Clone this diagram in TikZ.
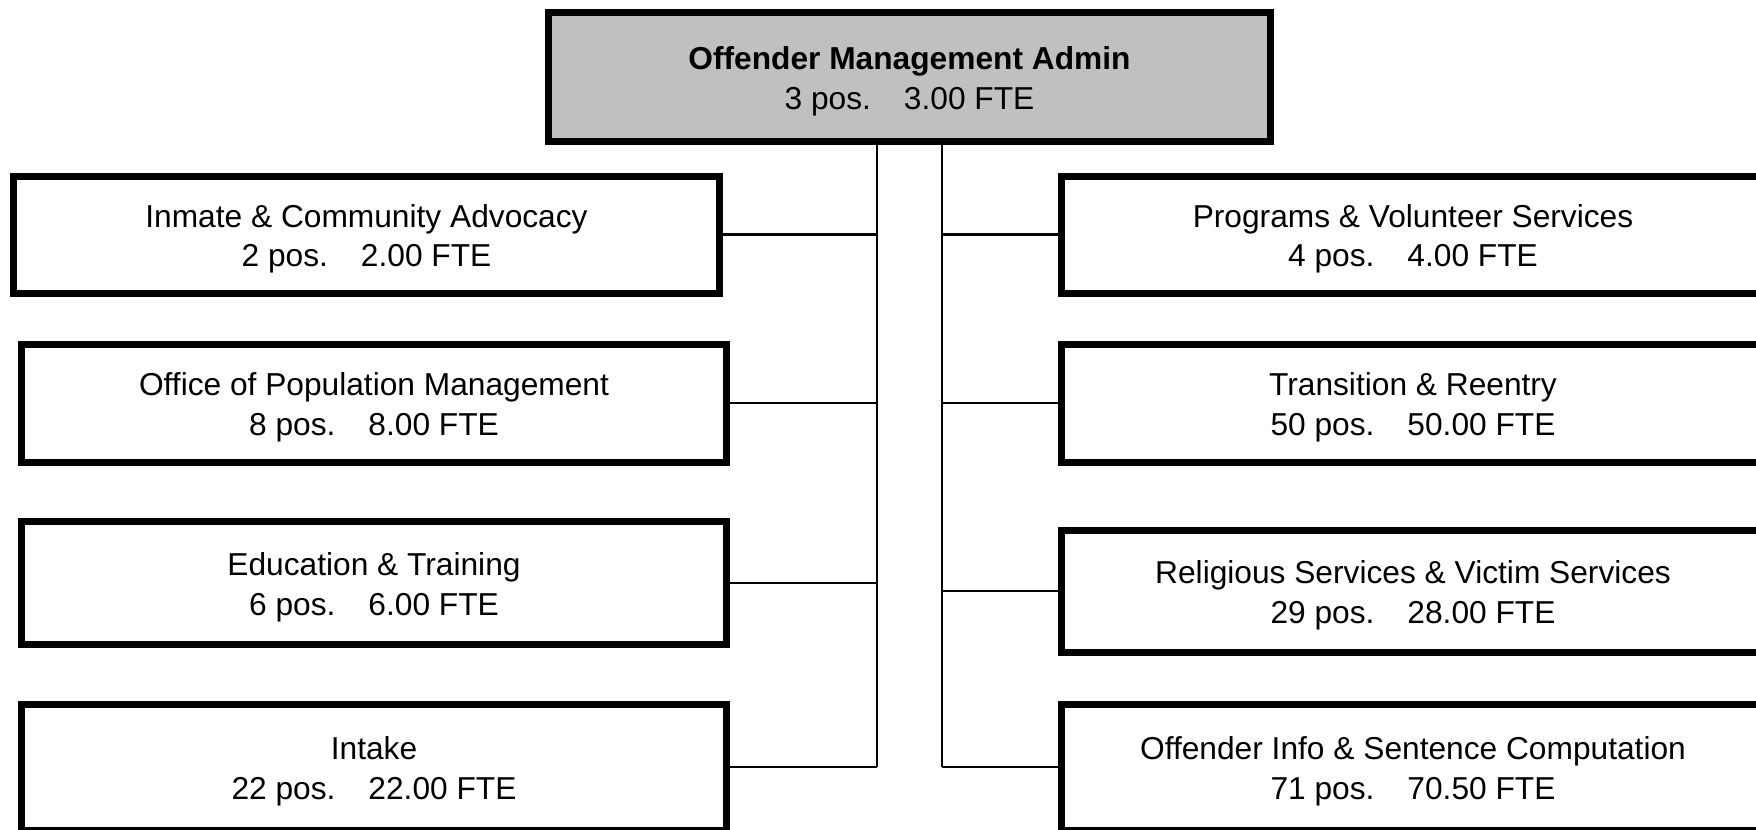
\documentclass[tikz,border=0pt]{standalone}
\usepackage{fontspec}
\setmainfont{Liberation Sans}
\definecolor{headgray}{RGB}{192,192,192}
% second line of each unit: positions and full-time equivalents
\newcommand\posfte[2]{#1 pos.\hspace{33bp}#2 FTE}
% two-line unit label: name, then positions and FTE
\newcommand\unitlabel[3]{\rule{0pt}{32bp}#1\\\posfte{#2}{#3}}
\begin{document}
\begin{tikzpicture}[x=1bp,y=-1bp,
  unit/.style={draw=black, line width=7bp, rectangle, inner sep=0pt,
    align=center, fill=white,
    font=\fontsize{31.7bp}{39.5bp}\selectfont},
  head/.style={unit, fill=headgray},
  link/.style={draw=black, line width=2.4bp}]
\useasboundingbox (0,0) rectangle (1756,830);
\clip (0,0) rectangle (1756,830);

% division head
\node[head, minimum width=722bp, minimum height=129bp] (admin) at (909.5,77)
  {\unitlabel{\textbf{Offender Management Admin}}{3}{3.00}};

% left column
\node[unit, minimum width=705bp, minimum height=117bp] (advocacy) at (366.5,234.5)
  {\unitlabel{Inmate \& Community Advocacy}{2}{2.00}};
\node[unit, minimum width=704bp, minimum height=118bp] (population) at (374,403)
  {\unitlabel{Office of Population Management}{8}{8.00}};
\node[unit, minimum width=704bp, minimum height=123bp] (education) at (374,583)
  {\unitlabel{Education \& Training}{6}{6.00}};
\node[unit, minimum width=704bp, minimum height=126bp] (intake) at (374,767)
  {\unitlabel{Intake}{22}{22.00}};

% right column
\node[unit, minimum width=704bp, minimum height=117bp] (programs) at (1413,234.5)
  {\unitlabel{Programs \& Volunteer Services}{4}{4.00}};
\node[unit, minimum width=704bp, minimum height=118bp] (reentry) at (1413,403)
  {\unitlabel{Transition \& Reentry}{50}{50.00}};
\node[unit, minimum width=704bp, minimum height=122bp] (religious) at (1413,591)
  {\unitlabel{Religious Services \& Victim Services}{29}{28.00}};
\node[unit, minimum width=704bp, minimum height=126bp] (offinfo) at (1413,767)
  {\unitlabel{Offender Info \& Sentence Computation}{71}{70.50}};

% trunk positions
\coordinate (lbus) at (877,0);
\coordinate (rbus) at (942,0);

% trunks
\draw[link] (admin.south -| lbus) -- (intake.east -| lbus);
\draw[link] (admin.south -| rbus) -- (offinfo.west -| rbus);

% branches
\foreach \u in {advocacy,population,education,intake}
  \draw[link] (\u.east) -- (\u.east -| lbus);
\foreach \u in {programs,reentry,religious,offinfo}
  \draw[link] (\u.west) -- (\u.west -| rbus);
\end{tikzpicture}
\end{document}
